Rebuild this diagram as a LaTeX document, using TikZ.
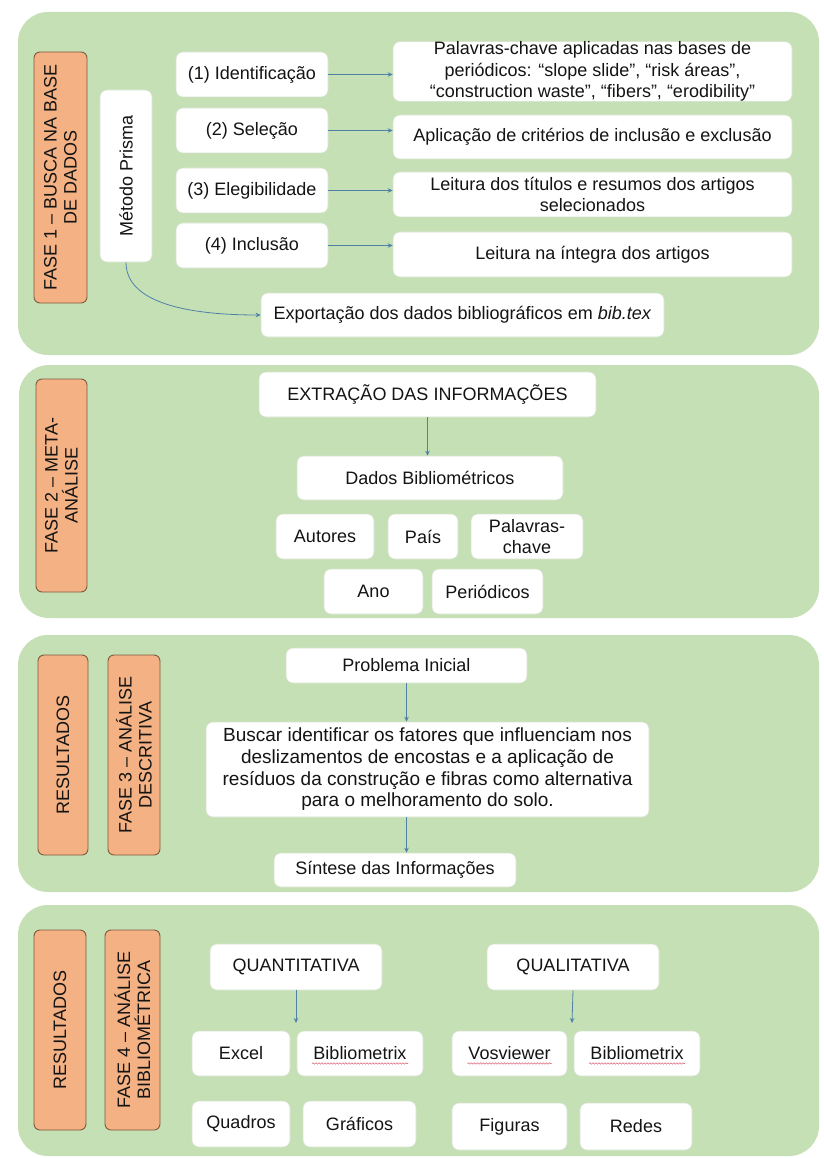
\documentclass[tikz,border=0pt]{standalone}
\usepackage{fontspec}
\setmainfont{Liberation Sans}
\usetikzlibrary{calc,arrows.meta,decorations.pathmorphing}
\definecolor{panelgreen}{HTML}{C5E0B4}
\definecolor{labelorange}{HTML}{F4B183}
\definecolor{labelborder}{HTML}{7F5A3E}
\definecolor{boxborder}{HTML}{D6E2CE}
\definecolor{arrowblue}{HTML}{4F81A8}
\definecolor{txt}{HTML}{141414}
\definecolor{squig}{HTML}{E07080}
\begin{document}
\begin{tikzpicture}[x=1pt,y=-1pt,
  every node/.style={font=\fontsize{18}{21.5}\selectfont, text=txt},
  panel/.style={fill=panelgreen, draw=none, rounded corners=30pt},
  box/.style={draw=boxborder, fill=white, rounded corners=7pt, line width=0.6pt, align=center, inner sep=2pt},
  lbl/.style={draw=labelborder, fill=labelorange, rounded corners=6pt, line width=0.9pt, align=center, inner sep=1pt, rotate=90, font=\fontsize{18}{20}\selectfont},
  arr/.style={draw=arrowblue, line width=0.8pt, -{Stealth[length=5pt,width=4.5pt]}},
  wavy/.style={draw=squig, line width=0.6pt, decorate, decoration={snake, amplitude=0.7pt, segment length=3pt}}
]
\useasboundingbox (0,0) rectangle (823,1158);
\fill[white] (0,0) rectangle (823,1158);

% ---------------- panels
\path[panel] (18,12) rectangle (819,355);
\path[panel] (19,365) rectangle (819,618);
\path[panel] (18,635) rectangle (819,892);
\path[panel] (18,905) rectangle (819,1156);

% ---------------- Phase 1
\node[lbl, minimum width=251, minimum height=53] (f1) at (60.5,177.5) {FASE 1 – BUSCA NA BASE\\DE DADOS};
\node[box, rotate=90, minimum width=172, minimum height=52] (prisma) at (126,176) {Método Prisma};

\node[box, minimum width=152, minimum height=45] (s1) at (252,74.5) {(1) Identificação};
\node[box, minimum width=152, minimum height=45] (s2) at (252,130.5) {(2) Seleção};
\node[box, minimum width=152, minimum height=45] (s3) at (252,190.5) {(3) Elegibilidade};
\node[box, minimum width=152, minimum height=45] (s4) at (252,245.5) {(4) Inclusão};

\node[box, minimum width=399, minimum height=57, inner sep=0pt] (r1) at (592.5,71.5) {Palavras-chave aplicadas nas bases de\\periódicos:  “slope slide”, “risk áreas”,\\“construction waste”, “fibers”, “erodibility”};
\node[box, minimum width=399, minimum height=44] (r2) at (592.5,137) {Aplicação de critérios de inclusão e exclusão};
\node[box, minimum width=399, minimum height=45, inner sep=0pt] (r3) at (592.5,194.5) {Leitura dos títulos e resumos dos artigos\\selecionados};
\node[box, minimum width=399, minimum height=45] (r4) at (592.5,254.5) {Leitura na íntegra dos artigos};

\node[box, minimum width=403, minimum height=44] (exp) at (462.5,315) {Exportação dos dados bibliográficos em \textit{bib.tex}};

\draw[arr] (s1.east) -- (s1.east -| r1.west);
\draw[arr] (s2.east) -- (s2.east -| r2.west);
\draw[arr] (s3.east) -- (s3.east -| r3.west);
\draw[arr] (s4.east) -- (s4.east -| r4.west);
\draw[arr] (prisma.west) .. controls +(0,40) and +(-75,0) .. (exp.west);

% ---------------- Phase 2
\node[lbl, minimum width=213, minimum height=51] (f2) at (61.5,485.5) {FASE 2 – META-\\ANÁLISE};
\node[box, minimum width=337, minimum height=45] (ext) at (427.5,394.5) {EXTRAÇÃO DAS INFORMAÇÕES};
\node[box, minimum width=266, minimum height=44] (dados) at (430,478) {Dados Bibliométricos};
\node[box, minimum width=98, minimum height=45] (autores) at (325,536.5) {Autores};
\node[box, minimum width=70, minimum height=45] (pais) at (423,536.5) {País};
\node[box, minimum width=112, minimum height=45, inner sep=0pt] (palavras) at (527,536.5) {Palavras-\\chave};
\node[box, minimum width=99, minimum height=45] (ano) at (373.5,591.5) {Ano};
\node[box, minimum width=111, minimum height=45] (periodicos) at (487.5,591.5) {Periódicos};
\draw[arr] (ext.south) -- (ext.south |- dados.north);

% ---------------- Phase 3
\node[lbl, minimum width=200, minimum height=50] (res3) at (63,755) {RESULTADOS};
\node[lbl, minimum width=200, minimum height=52] (f3) at (134,755) {FASE 3 – ANÁLISE\\DESCRITIVA};
\node[box, minimum width=241, minimum height=35] (prob) at (406.5,665.5) {Problema Inicial};
\node[box, minimum width=443, minimum height=95, inner sep=0pt, font=\fontsize{19}{21.7}\selectfont] (buscar) at (427.5,769.5) {Buscar identificar os fatores que influenciam nos\\deslizamentos de encostas e a aplicação de\\resíduos da construção e fibras como alternativa\\para o melhoramento do solo.};
\node[box, minimum width=242, minimum height=34] (sint) at (395,870) {Síntese das Informações};
\draw[arr] (prob.south) -- (prob.south |- buscar.north);
\draw[arr] (prob.south |- buscar.south) -- (prob.south |- sint.north);

% ---------------- Phase 4
\node[lbl, minimum width=200, minimum height=52] (res4) at (60,1030) {RESULTADOS};
\node[lbl, minimum width=200, minimum height=55] (f4) at (132.5,1030) {FASE 4 – ANÁLISE\\BIBLIOMÉTRICA};
\node[box, minimum width=172, minimum height=46] (quant) at (296,967) {QUANTITATIVA};
\node[box, minimum width=172, minimum height=46] (qual) at (573,967) {QUALITATIVA};
\node[box, minimum width=98, minimum height=45] (excel) at (241,1053.5) {Excel};
\node[box, minimum width=126, minimum height=45] (bib1) at (360,1053.5) {Bibliometrix};
\node[box, minimum width=115, minimum height=45] (vos) at (509.5,1053.5) {Vosviewer};
\node[box, minimum width=126, minimum height=45] (bib2) at (637,1053.5) {Bibliometrix};
\node[box, minimum width=98, minimum height=46] (quadros) at (241,1124) {Quadros};
\node[box, minimum width=113, minimum height=46] (graficos) at (359.5,1124) {Gráficos};
\node[box, minimum width=115, minimum height=47] (figuras) at (509.5,1126.5) {Figuras};
\node[box, minimum width=112, minimum height=47] (redes) at (636,1126.5) {Redes};
\coordinate (qa) at (296,1023);
\coordinate (qb) at (572,1023);
\draw[arr] (quant.south) -- (qa);
\draw[arr] (qual.south) -- (qb);

% spell-check squiggles
\draw[wavy] ($(bib1.center)+(-48,10)$) -- ($(bib1.center)+(48,10)$);
\draw[wavy] ($(vos.center)+(-42,10)$) -- ($(vos.center)+(42,10)$);
\draw[wavy] ($(bib2.center)+(-48,10)$) -- ($(bib2.center)+(48,10)$);
\end{tikzpicture}
\end{document}
